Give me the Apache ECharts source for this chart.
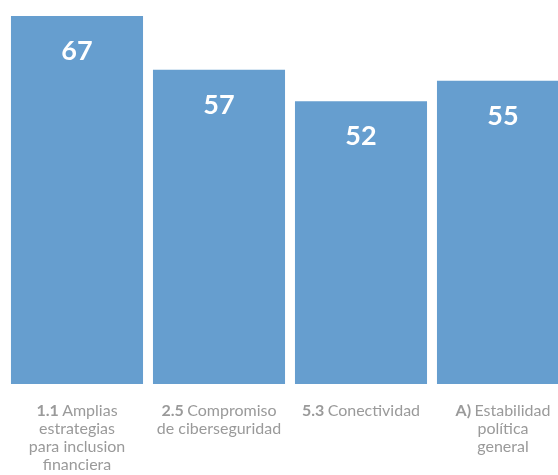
<!DOCTYPE html>
<html>
<head>
<meta charset="utf-8">
<script src="https://cdn.jsdelivr.net/npm/echarts@6/dist/echarts.min.js"></script>
<style>html,body{margin:0;padding:0;background:#fff;overflow:hidden}#c{width:574px;height:475px}</style>
</head>
<body>
<div id="c"></div>
<script>
const prefixes = ['1.1', '2.5', '5.3', 'A)'];
const categories = ['Amplias\nestrategias\npara inclusion\nfinanciera', 'Compromiso\nde ciberseguridad', 'Conectividad', 'Estabilidad\npolítica\ngeneral'];
const values = [67, 57.2, 51.5, 55.2];

const chart = echarts.init(document.getElementById('c'));
const labels = categories.map((c, i) => {
  const lines = c.split('\n');
  return '{b|' + prefixes[i] + '} {n|' + lines[0] + '}' + (lines.length > 1 ? '\n' + lines.slice(1).map(l => '{n|' + l + '}').join('\n') : '');
});
chart.setOption({
  animation: false,
  grid: { left: 6, right: 0, top: 16, bottom: 91 },
  xAxis: {
    type: 'category',
    data: labels,
    axisLine: { show: false },
    axisTick: { show: false },
    axisLabel: {
      interval: 0,
      margin: 18,
      align: 'center',
      rich: {
        b: { fontFamily: 'Lato', fontWeight: 'bold', fontSize: 16, color: '#9a9a9a', lineHeight: 18 },
        n: { fontFamily: 'Lato', fontSize: 16, color: '#9a9a9a', lineHeight: 18, align: 'center' }
      }
    }
  },
  yAxis: { type: 'value', min: 0, max: 67, show: false, splitLine: { show: false } },
  series: [{
    type: 'bar',
    data: values,
    barCategoryGap: '7%',
    itemStyle: { color: '#669ecf' },
    label: {
      show: true,
      position: 'insideTop',
      distance: 22,
      color: '#fff',
      fontFamily: 'Lato',
      fontWeight: 'bold',
      fontSize: 27,
      formatter: p => Math.round(p.value)
    }
  }]
});
</script>
</body>
</html>
